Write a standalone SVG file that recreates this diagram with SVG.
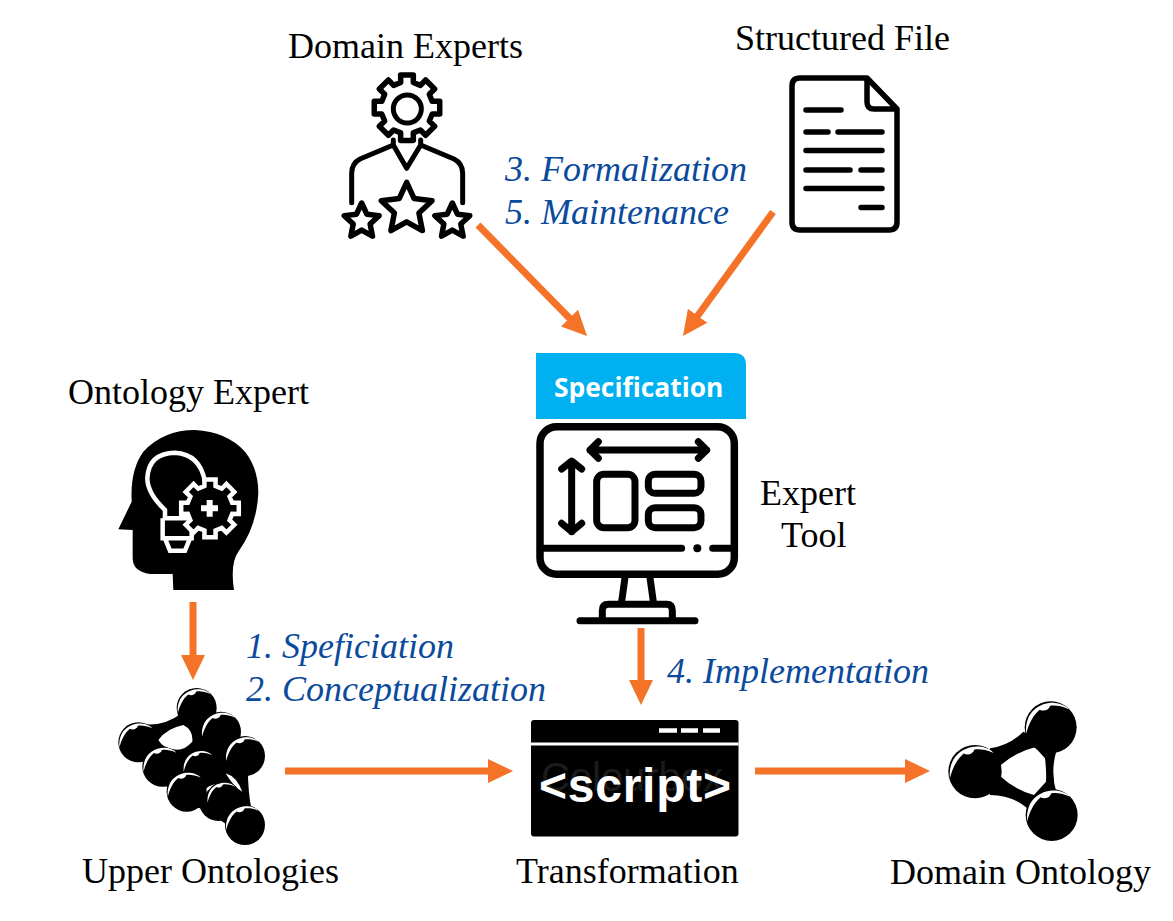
<svg xmlns="http://www.w3.org/2000/svg" xmlns:xlink="http://www.w3.org/1999/xlink" width="1173" height="921" viewBox="0 0 1173 921">
<style>
.t{font-family:"Liberation Serif","Times New Roman",serif;font-size:36px;fill:#000}
.l{font-family:"Liberation Serif","Times New Roman",serif;font-size:36px;font-style:italic;fill:#0a4a9c}
.ln{fill:none;stroke:#000;stroke-linecap:round;stroke-linejoin:round;vector-effect:non-scaling-stroke;stroke-width:5}
.m{stroke-width:7}
.w{fill:none;stroke:#fff;stroke-linejoin:miter;vector-effect:non-scaling-stroke;stroke-width:4.5}
#gear,#star{vector-effect:non-scaling-stroke}
.c line{stroke:#f47328;stroke-width:7;marker-end:url(#ah)}
</style>
<defs>
<marker id="ah" markerUnits="userSpaceOnUse" markerWidth="26" markerHeight="26" refX="4" refY="13" orient="auto"><path d="M0 1L25 13L0 25Z" fill="#f47328"/></marker>
<polygon id="gear" points="98.2,19.1 75.7,18.9 66.9,40.2 82.9,55.9 55.9,82.9 40.2,66.9 18.9,75.7 19.1,98.2 -19.1,98.2 -18.9,75.7 -40.2,66.9 -55.9,82.9 -82.9,55.9 -66.9,40.2 -75.7,18.9 -98.2,19.1 -98.2,-19.1 -75.7,-18.9 -66.9,-40.2 -82.9,-55.9 -55.9,-82.9 -40.2,-66.9 -18.9,-75.7 -19.1,-98.2 19.1,-98.2 18.9,-75.7 40.2,-66.9 55.9,-82.9 82.9,-55.9 66.9,-40.2 75.7,-18.9 98.2,-19.1"/>
<polygon id="star" points="0,-100 28,-39 95,-31 46,15 59,81 0,48 -59,81 -46,15 -95,-31 -28,-39"/>
<g id="ball"><circle r="100" fill="#000"/><path d="M-94 25C-102 -60 -40 -97 15 -94C40 -92 60 -82 70 -70C40 -84 15 -86 -2 -83C-8 -65 -28 -60 -42 -68C-68 -48 -86 -10 -94 25Z" fill="#fff"/></g>
</defs>
<rect width="1173" height="921" fill="#fff"/>

<g id="domain-experts">
<g transform="translate(330,60) scale(.3333)">
<use xlink:href="#gear" href="#gear" class="ln" transform="translate(231,143) scale(1)" style="stroke-width:5.5"/>
<circle cx="232" cy="147" r="42" class="ln"/>
<path class="ln" d="M190 240V255L230 325L272 255V240M190 255L90 297Q65 310 65 340V428M272 255L372 297Q398 310 398 340V428"/>
<use xlink:href="#star" href="#star" class="ln" style="fill:#fff;stroke-width:5.5" transform="translate(230,447) scale(.8)"/>
<use xlink:href="#star" href="#star" class="ln" style="fill:#fff;stroke-width:5.5" transform="translate(95,484) scale(.55)"/>
<use xlink:href="#star" href="#star" class="ln" style="fill:#fff;stroke-width:5.5" transform="translate(367,484) scale(.55)"/>
</g>
<text class="t" x="288" y="58">Domain Experts</text>
</g>

<g id="structured-file">
<path class="ln" style="stroke-width:5.5" d="M800 78H867L897 109V222Q897 230 889 230H800Q792 230 792 222V86Q792 78 800 78ZM867 78V102Q867 109 874 109H897"/>
<path class="ln" style="stroke-width:5.5" d="M806 110H841M806 132H828M838 132H882M806 150.500H882M806 170H850M861 170H882M806 188.500H882M861 207.500H882"/>
<text class="t" x="735" y="50">Structured File</text>
</g>

<g id="specification">
<path d="M536 353H734Q746 353 746 365V419H536Z" fill="#00b0f0"/>
<text x="554" y="397" font-family="'Open Sans','Noto Sans',sans-serif" font-weight="700" font-size="26.400" fill="#fff">Specification</text>
</g>

<g id="expert-tool">
<g transform="translate(525,345) scale(.3333)">
<rect x="45" y="245" width="583" height="443" rx="50" class="ln m" style="stroke-width:7.500"/>
<path class="ln m" d="M50 610H470M563 610H625M195 315H545M220 290L195 315L220 340M520 290L545 315L520 340M140 350V560M110 372L140 348L170 372M110 535L140 560L170 535"/>
<circle cx="517" cy="610" r="12" fill="#000"/>
<rect x="215" y="388" width="115" height="160" rx="22" class="ln m"/>
<rect x="370" y="388" width="158" height="57" rx="20" class="ln m"/>
<rect x="370" y="488" width="158" height="60" rx="20" class="ln m"/>
<path class="ln m" d="M300 698L290 770M375 698L385 770M232 820V797Q232 778 250 778H425Q442 778 442 797V820M165 827H510"/>
</g>
<text class="t" x="760" y="505">Expert</text>
<text class="t" x="781" y="547">Tool</text>
</g>

<g id="ontology-expert">
<g transform="translate(110,430) scale(.3333)">
<path fill="#000" d="M190 480L188 432H120Q68 425 68 385V300L25 298L65 215Q60 120 100 65Q160 0 255 0Q350 5 405 65Q445 115 445 190Q440 290 385 365Q360 400 372 480Z"/>
<path class="w" d="M165 262V240Q112 190 112 145Q115 70 195 68Q270 72 285 155M158 265H235M158 265V325H245V300M165 325L180 362H225L240 325"/>
<use xlink:href="#gear" href="#gear" class="w" style="fill:#000" transform="translate(300,235) scale(.88)"/>
<path fill="#fff" d="M290 210H308V226H324V244H308V260H290V244H273V226H290Z"/>
</g>
<text class="t" x="68" y="404">Ontology Expert</text>
</g>

<g id="upper-ontologies">
<g transform="translate(105,680) scale(.3333)">
<path fill="#000" fill-rule="evenodd" d="M100 130Q170 145 230 100L350 110L430 220Q425 320 440 390L420 470L300 390L240 370L120 260ZM160 180Q185 145 235 135Q265 150 262 185Q235 215 205 208Q175 205 160 180ZM290 210Q330 225 335 258Q305 225 290 210ZM362 280Q395 290 412 335Q385 320 362 280Z"/>
<use xlink:href="#ball" href="#ball" transform="translate(275,84) scale(.6)"/>
<use xlink:href="#ball" href="#ball" transform="translate(100,187) scale(.6)"/>
<use xlink:href="#ball" href="#ball" transform="translate(348,155) scale(.6)"/>
<use xlink:href="#ball" href="#ball" transform="translate(420,228) scale(.6)"/>
<use xlink:href="#ball" href="#ball" transform="translate(172,260) scale(.6)"/>
<use xlink:href="#ball" href="#ball" transform="translate(285,262) scale(.52)"/>
<use xlink:href="#ball" href="#ball" transform="translate(340,365) scale(.58)"/>
<use xlink:href="#ball" href="#ball" transform="translate(245,335) scale(.6)"/>
<use xlink:href="#ball" href="#ball" transform="translate(355,355) scale(.5)"/>
<use xlink:href="#ball" href="#ball" transform="translate(420,435) scale(.6)"/>
</g>
<text class="t" x="82" y="883">Upper Ontologies</text>
</g>

<g id="transformation">
<rect x="531" y="720" width="207.500" height="116.500" rx="3" fill="#000"/>
<rect x="531" y="742.500" width="207.500" height="3" fill="#fff"/>
<path d="M659 730.500H677M681 730.500H698M703 730.500H720" stroke="#fff" stroke-width="4.500"/>
<text x="541" y="791" font-family="'Liberation Sans',Arial,sans-serif" font-size="40" fill="#1b1b1b" textLength="182">Colourbox</text>
<text x="539" y="802" font-family="'Liberation Sans',Arial,sans-serif" font-weight="700" font-size="48" fill="#fff" textLength="192">&lt;script&gt;</text>
<text class="t" x="516" y="883">Transformation</text>
</g>

<g id="domain-ontology">
<g transform="translate(940,695) scale(.3333)">
<path fill="#000" fill-rule="evenodd" d="M150 160Q210 150 250 110L350 165Q330 230 350 295L262 340Q215 300 150 300ZM183 210Q225 172 285 157L315 190Q320 230 318 260L282 300Q225 285 183 245Q178 228 183 210Z"/>
<use xlink:href="#ball" href="#ball" transform="translate(332,97) scale(.78)"/>
<use xlink:href="#ball" href="#ball" transform="translate(105,230) scale(.8)"/>
<use xlink:href="#ball" href="#ball" transform="translate(335,360) scale(.78)"/>
</g>
<text class="t" x="890" y="884">Domain Ontology</text>
</g>

<g id="labels">
<text class="l" x="505" y="181">3. Formalization</text>
<text class="l" x="505" y="224">5. Maintenance</text>
<text class="l" x="246" y="658">1. Speficiation</text>
<text class="l" x="246" y="701">2. Conceptualization</text>
<text class="l" x="667" y="683">4. Implementation</text>
</g>

<g id="connectors" class="c">
<line x1="478" y1="225" x2="572.300" y2="321"/>
<line x1="773" y1="212" x2="695.300" y2="319"/>
<line x1="193" y1="602" x2="193" y2="659"/>
<line x1="641" y1="628" x2="641" y2="684"/>
<line x1="285" y1="771" x2="492" y2="771"/>
<line x1="755" y1="771" x2="909" y2="771"/>
</g>
</svg>
